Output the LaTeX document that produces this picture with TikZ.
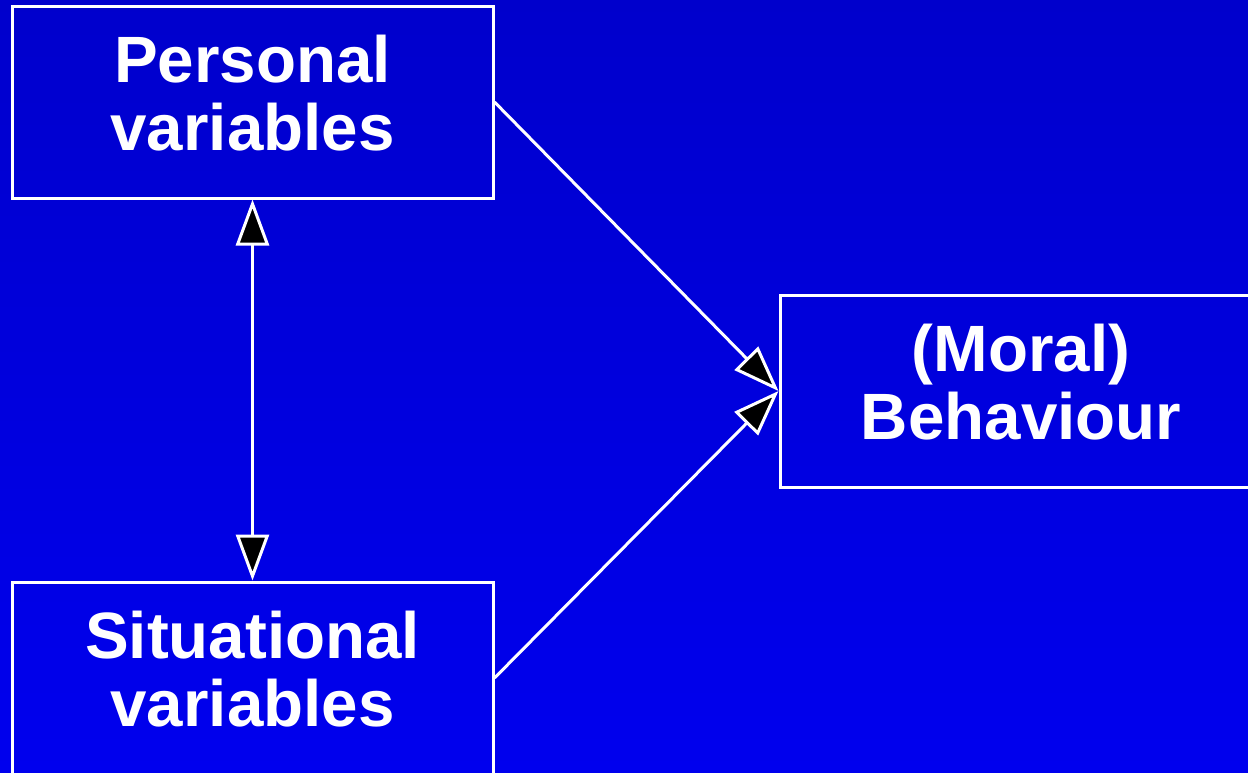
\documentclass[tikz,border=0pt]{standalone}
\usepackage{fontspec}
\setmainfont{Liberation Sans}
\usetikzlibrary{arrows.meta}
\definecolor{bgtop}{RGB}{0,0,204}
\definecolor{bgbot}{RGB}{0,0,238}
\begin{document}
\begin{tikzpicture}[x=1pt,y=-1pt,
  box/.style={draw=white,line width=3pt,minimum width=481pt,minimum height=192pt,inner sep=0pt},
  lbl/.style={align=center,text=white,inner sep=0pt,yshift=9pt,
    font=\fontsize{65.5}{68}\selectfont\bfseries},
  tip/.style={Triangle[length=46pt,width=33pt,fill=black,line width=3pt]},
  conn/.style={draw=white,line width=3pt,-{Triangle[length=46pt,width=33pt,fill=black,line width=3pt]}},
  conn2/.style={draw=white,line width=3pt,
    {Triangle[length=46pt,width=33pt,fill=black,line width=3pt]}-{Triangle[length=46pt,width=33pt,fill=black,line width=3pt]}}]
\shade[top color=bgtop,bottom color=bgbot] (0,0) rectangle (1248,772);
\useasboundingbox (0,0) rectangle (1248,772);
\node[box] (pers) at (252.5,102) {};
\node[box] (sit) at (252.5,678) {};
\node[box,minimum width=482pt] (beh) at (1021,391) {};
\node[lbl] (perst) at (pers.center) {Personal\\variables};
\node[lbl] (sitt) at (sit.center) {Situational\\variables};
\node[lbl] (beht) at (beh.center) {(Moral)\\Behaviour};
\draw[conn2] (pers.south) -- (sit.north);
\draw[conn] (pers.east) -- (beh.west);
\draw[conn] (sit.east) -- (beh.west);
\end{tikzpicture}
\end{document}
